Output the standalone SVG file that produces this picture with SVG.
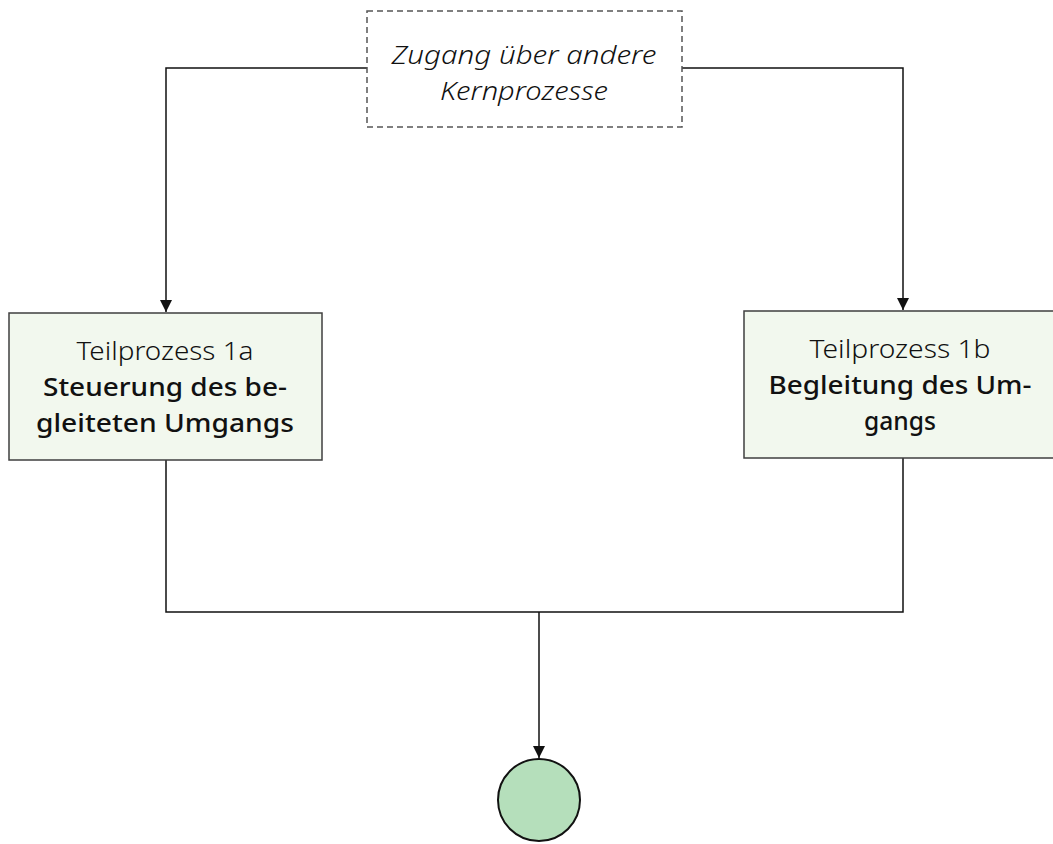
<svg xmlns="http://www.w3.org/2000/svg" width="1053" height="844" viewBox="0 0 1053 844">
  <style>
    .proc { fill: #f2f8ee; stroke: #3f3f3f; stroke-width: 1.5; }
    .ext { fill: #ffffff; stroke: #555555; stroke-width: 1.5; stroke-dasharray: 6 4; }
    .end { fill: #b5dfbb; stroke: #111111; stroke-width: 2; }
    .conn { fill: none; stroke: #111111; stroke-width: 1.5; }
    text { font-family: "Noto Sans", "Open Sans", sans-serif; font-size: 26px; fill: #111111; text-anchor: middle; }
    .light { font-weight: 300; }
    .bold { font-weight: 500; }
    .ital { font-style: italic; font-weight: 300; font-size: 25px; }
  </style>
  <defs>
    <marker id="arrow" viewBox="0 0 12 12" refX="12" refY="6" markerWidth="12" markerHeight="12" markerUnits="userSpaceOnUse" orient="auto">
      <path d="M0,0 L12,6 L0,12 Z" fill="#111111"/>
    </marker>
  </defs>
  <rect width="1053" height="844" fill="#ffffff"/>

  <!-- connectors -->
  <g id="connectors">
    <path class="conn" d="M367,68 H166 V312" marker-end="url(#arrow)"/>
    <path class="conn" d="M682,68 H903 V310" marker-end="url(#arrow)"/>
    <path class="conn" d="M166,460 V612 H903 V458"/>
    <path class="conn" d="M539,612 V758" marker-end="url(#arrow)"/>
  </g>

  <!-- external entry -->
  <g id="zugang">
    <rect class="ext" x="367" y="11" width="315" height="116"/>
    <text class="ital" x="524" y="64" textLength="265" lengthAdjust="spacingAndGlyphs">Zugang über andere</text>
    <text class="ital" x="524" y="100" textLength="168" lengthAdjust="spacingAndGlyphs">Kernprozesse</text>
  </g>

  <!-- sub-process 1a -->
  <g id="teilprozess-1a">
    <rect class="proc" x="9" y="313" width="313" height="147"/>
    <text class="light" x="165" y="360" textLength="177" lengthAdjust="spacingAndGlyphs">Teilprozess 1a</text>
    <text class="bold" x="165" y="396" textLength="244" lengthAdjust="spacingAndGlyphs">Steuerung des be-</text>
    <text class="bold" x="165" y="432" textLength="258" lengthAdjust="spacingAndGlyphs">gleiteten Umgangs</text>
  </g>

  <!-- sub-process 1b -->
  <g id="teilprozess-1b">
    <rect class="proc" x="744" y="311" width="316" height="147"/>
    <text class="light" x="900" y="358" textLength="181" lengthAdjust="spacingAndGlyphs">Teilprozess 1b</text>
    <text class="bold" x="900" y="394" textLength="263" lengthAdjust="spacingAndGlyphs">Begleitung des Um-</text>
    <text class="bold" x="900" y="430" textLength="72" lengthAdjust="spacingAndGlyphs">gangs</text>
  </g>

  <!-- end event -->
  <g id="ende">
    <circle class="end" cx="539" cy="800" r="41"/>
  </g>
</svg>
